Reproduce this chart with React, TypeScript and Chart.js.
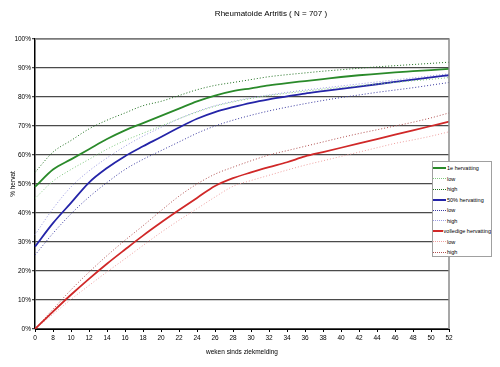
import React, { useEffect, useRef } from "react";
import { Chart, registerables } from "chart.js";

Chart.register(...registerables);

const weeks = ["0", "8", "10", "12", "14", "16", "18", "20", "22", "24", "26", "28", "30", "32", "34", "36", "38", "40", "42", "44", "46", "48", "50", "52"];

const greenMain = [49, 55, 58.5, 62, 65.5, 68.5, 71, 73.5, 76, 78.5, 80.5, 82, 83, 84, 84.8, 85.5, 86.2, 86.9, 87.5, 88, 88.5, 88.9, 89.3, 89.7];
const greenLow = [45, 51, 55, 58.5, 62, 65, 67.5, 70, 72.5, 74.8, 76.8, 78.3, 79.5, 80.5, 81.3, 82, 82.7, 83.3, 83.9, 84.5, 85, 85.6, 86.1, 86.7];
const greenHigh = [54, 61, 65, 69, 72, 74.5, 77, 78.5, 80.5, 82.5, 84, 85, 86, 87, 87.7, 88.3, 88.9, 89.4, 89.9, 90.4, 90.8, 91.2, 91.6, 92];

const blueMain = [28.4, 36.5, 43.5, 50.5, 55.5, 59.6, 63, 66.2, 69.5, 72.5, 74.8, 76.5, 78, 79.2, 80.2, 81.2, 82, 82.8, 83.6, 84.4, 85.2, 86, 86.8, 87.5];
const blueLow = [25.5, 33, 39.7, 45.5, 50.5, 55, 58.5, 61.5, 64.5, 67.5, 70, 72, 73.7, 75.2, 76.5, 77.7, 78.8, 79.8, 80.7, 81.6, 82.4, 83.2, 84.1, 85];
const blueHigh = [32.5, 41.5, 49, 54.5, 59, 63, 66.5, 69.5, 72.5, 75, 77, 78.5, 79.7, 80.7, 81.6, 82.4, 83.1, 83.8, 84.5, 85.2, 85.9, 86.6, 87.3, 88];

const redMain = [0, 6, 11.8, 17.3, 22.5, 27.4, 32.2, 36.7, 41, 45.2, 49.3, 52, 54, 55.8, 57.5, 59.5, 61, 62.5, 64, 65.5, 67, 68.5, 70, 71.5];
const redLow = [0, 5.1, 10.2, 15, 19.7, 24.2, 28.8, 33.3, 37.5, 41.5, 45.5, 49.2, 51.2, 53, 54.8, 56.5, 58, 59.5, 61, 62.5, 64, 65.2, 66.5, 68];
const redHigh = [0, 6.8, 13.5, 19.6, 25.3, 30.6, 35.6, 40.8, 45.8, 50, 53.4, 55.8, 58, 60, 61.5, 63, 64.5, 66, 67.4, 68.7, 70, 71.3, 72.8, 74.5];

const yTicks = [0, 10, 20, 30, 40, 50, 60, 70, 80, 90, 100];

const seriesLabels = ["1e hervatting", "low", "high", "50% hervatting", "low", "high", "volledige hervatting", "low", "high"];

const FONT = "'Liberation Sans', Arial, sans-serif";

type Style = { color: string; width: number; dash: number[] };
const styles: Style[] = [
  { color: "#2a8a2a", width: 1.8, dash: [] },
  { color: "#7ec87e", width: 1, dash: [1, 2] },
  { color: "#1f6f1f", width: 1, dash: [1, 2] },
  { color: "#2424a8", width: 1.8, dash: [] },
  { color: "#3a3aa0", width: 1, dash: [1, 2] },
  { color: "#9a9ae0", width: 1, dash: [1, 2] },
  { color: "#d02828", width: 1.8, dash: [] },
  { color: "#eea0a0", width: 1, dash: [1, 2] },
  { color: "#b05050", width: 1, dash: [1, 2] },
];

const allData = [greenMain, greenLow, greenHigh, blueMain, blueLow, blueHigh, redMain, redLow, redHigh];

const borderPlugin = {
  id: "plotBorder",
  afterDraw(chart: any) {
    const { ctx, chartArea } = chart;
    ctx.save();
    ctx.strokeStyle = "#8a8a8a";
    ctx.lineWidth = 1.5;
    ctx.beginPath();
    ctx.moveTo(chartArea.left, chartArea.top);
    ctx.lineTo(chartArea.right, chartArea.top);
    ctx.lineTo(chartArea.right, chartArea.bottom);
    ctx.stroke();
    ctx.restore();
  },
};

export default function App() {
  const ref = useRef<HTMLCanvasElement>(null);
  useEffect(() => {
    if (!ref.current) return;
    const chart = new Chart(ref.current, {
      type: "line",
      data: {
        labels: weeks,
        datasets: allData.map((d, i) => ({
          label: seriesLabels[i],
          data: d,
          borderColor: styles[i].color,
          borderWidth: styles[i].width,
          borderDash: styles[i].dash,
          pointRadius: 0,
          tension: 0.4,
          cubicInterpolationMode: "monotone" as const,
          fill: false,
        })),
      },
      options: {
        responsive: false,
        animation: false,
        layout: { padding: { left: 0, right: 51, top: 39, bottom: 0 } },
        plugins: {
          legend: { display: false },
          title: { display: false },
          tooltip: { enabled: false },
        },
        scales: {
          x: {
            type: "category",
            offset: false,
            afterFit: (s: any) => {
              s.height = 38;
            },
            grid: { display: true, drawOnChartArea: false, tickLength: 3, color: "#000" },
            border: { color: "#000", width: 1 },
            ticks: {
              color: "#000",
              font: { family: FONT, size: 6.5 },
              padding: 2,
              maxRotation: 0,
              autoSkip: false,
            },
            title: {
              display: true,
              text: "weken sinds ziekmelding",
              color: "#000",
              font: { family: FONT, size: 6.5 },
              padding: { top: 0, bottom: 11 },
            },
          },
          y: {
            min: 0,
            max: 100,
            afterFit: (s: any) => {
              s.width = 35;
            },
            afterBuildTicks: (s: any) => {
              s.ticks = yTicks.map((v) => ({ value: v }));
            },
            grid: { color: "#4a4a4a", lineWidth: 1.2, tickLength: 3, drawTicks: true },
            border: { color: "#000", width: 1.5 },
            ticks: {
              color: "#000",
              font: { family: FONT, size: 6.5 },
              padding: 1,
              callback: (v: any) => v + "%",
            },
            title: {
              display: true,
              text: "% hervat",
              color: "#000",
              font: { family: FONT, size: 6.5 },
              padding: { top: 9, bottom: 0 },
            },
          },
        },
      },
      plugins: [borderPlugin],
    });
    return () => chart.destroy();
  }, []);

  return (
    <div style={{ position: "absolute", left: 0, top: 0, width: 500, height: 367, background: "#fff" }}>
      <canvas ref={ref} width={500} height={367} style={{ display: "block" }} />
      <div
        style={{
          position: "absolute",
          left: 0,
          top: 9,
          width: 542,
          textAlign: "center",
          fontFamily: FONT,
          fontSize: 8,
          color: "#000",
        }}
      >
        Rheumatoide Artritis ( N = 707 )
      </div>
      <div
        style={{
          position: "absolute",
          left: 432,
          top: 161,
          width: 60,
          height: 96,
          border: "1px solid #a0a0a0",
          background: "#fff",
          boxSizing: "border-box",
          paddingTop: 1,
          overflow: "hidden",
        }}
      >
        {seriesLabels.map((l, i) => (
          <div
            key={i}
            style={{
              height: 10.5,
              display: "flex",
              alignItems: "center",
              fontFamily: FONT,
              fontSize: 5.5,
              color: "#000",
              whiteSpace: "nowrap",
            }}
          >
            <span
              style={{
                display: "inline-block",
                width: 13,
                marginRight: 1,
                borderTop: styles[i].dash.length
                  ? `1px dotted ${styles[i].color}`
                  : `2.5px solid ${styles[i].color}`,
              }}
            />
            <span>{l}</span>
          </div>
        ))}
      </div>
    </div>
  );
}
